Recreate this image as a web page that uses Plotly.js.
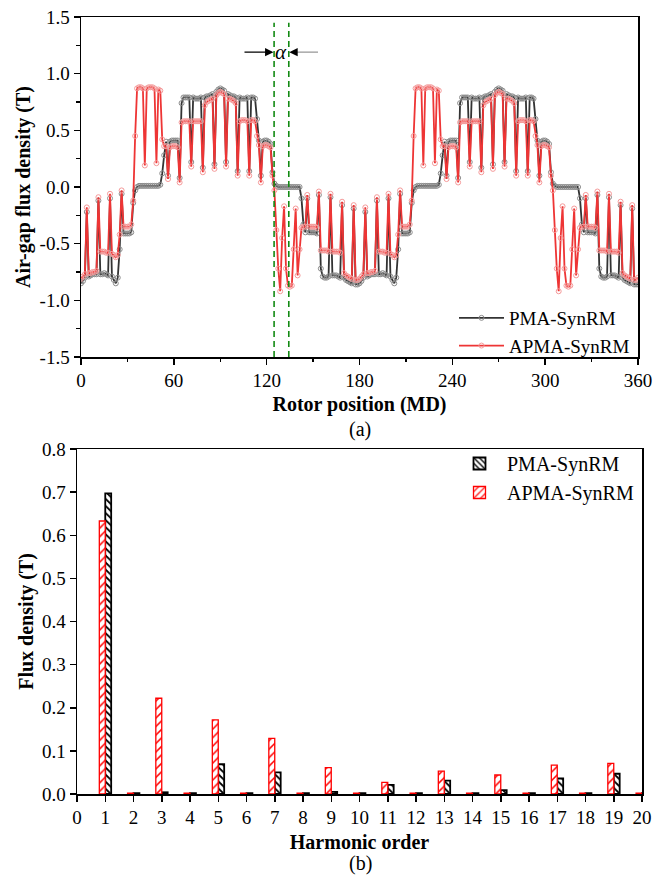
<!DOCTYPE html>
<html><head><meta charset="utf-8">
<script src="https://cdn.plot.ly/plotly-3.0.1.min.js"></script>
<style>html,body{margin:0;padding:0;background:#fff}#chart{width:665px;height:876px}</style>
</head><body><div id="chart"></div>
<script>
// ---------- data (a): air-gap flux density, sampled every 1.25 MD ----------
const stepDeg = 1.25;
const pmaFluxFirstHalf = [
 -0.85,-0.83,-0.80,-0.22,-0.79,-0.78,-0.77,-0.77,-0.77,-0.12,
 -0.77,-0.77,-0.76,-0.77,-0.78,-0.10,-0.79,-0.82,-0.85,-0.80,
 -0.55,-0.06,-0.41,-0.41,-0.41,-0.41,-0.40,-0.14,-0.03,0.00,
 0.01,0.01,0.01,0.01,0.01,0.01,0.01,0.01,0.01,0.01,
 0.01,0.02,0.12,0.28,0.40,0.10,0.40,0.41,0.41,0.41,
 0.41,0.08,0.74,0.79,0.79,0.79,0.79,0.22,0.79,0.78,
 0.78,0.78,0.79,0.17,0.79,0.80,0.80,0.81,0.82,0.20,
 0.84,0.86,0.87,0.86,0.85,0.22,0.82,0.81,0.80,0.80,
 0.79,0.14,0.79,0.78,0.78,0.78,0.79,0.14,0.79,0.79,
 0.78,0.60,0.41,0.10,0.40,0.41,0.41,0.40,0.38,0.13,
 0.03,0.01,0.00,0.00,0.00,0.00,0.00,0.00,0.00,0.00,
 0.00,0.00,0.00,0.00,-0.10,-0.33,-0.40,-0.10,-0.40,-0.40,
 -0.40,-0.40,-0.41,-0.07,-0.72,-0.79,-0.80,-0.80,-0.79,-0.09,
 -0.78,-0.78,-0.78,-0.79,-0.80,-0.16,-0.80,-0.82,-0.83,-0.84,
 -0.85,-0.19,-0.86,-0.86];
const pmaFluxSecondHalf = [
 -0.85,-0.83,-0.80,-0.22,-0.79,-0.78,-0.77,-0.77,-0.77,-0.12,
 -0.77,-0.77,-0.76,-0.77,-0.78,-0.10,-0.79,-0.82,-0.85,-0.80,
 -0.55,-0.06,-0.41,-0.41,-0.41,-0.41,-0.40,-0.14,-0.03,0.00,
 0.01,0.01,0.01,0.01,0.01,0.01,0.01,0.01,0.01,0.01,
 0.01,0.02,0.12,0.28,0.40,0.10,0.40,0.41,0.41,0.41,
 0.41,0.08,0.74,0.79,0.79,0.79,0.79,0.22,0.79,0.78,
 0.78,0.78,0.79,0.17,0.79,0.80,0.80,0.81,0.82,0.20,
 0.84,0.86,0.87,0.86,0.85,0.22,0.82,0.81,0.80,0.80,
 0.79,0.14,0.79,0.78,0.78,0.78,0.79,0.14,0.79,0.79,
 0.78,0.60,0.41,0.10,0.40,0.41,0.41,0.40,0.38,0.13,
 0.03,0.01,0.00,0.00,0.00,0.00,0.00,0.00,0.00,0.00,
 0.00,0.00,0.00,0.00,-0.10,-0.33,-0.40,-0.10,-0.40,-0.40,
 -0.40,-0.40,-0.41,-0.07,-0.72,-0.79,-0.80,-0.80,-0.79,-0.09,
 -0.78,-0.78,-0.78,-0.79,-0.80,-0.16,-0.80,-0.82,-0.83,-0.84,
 -0.85,-0.19,-0.86,-0.86,
 -0.86];
const apmaFluxFirstHalf = [
 -0.81,-0.79,-0.77,-0.18,-0.76,-0.76,-0.75,-0.75,-0.74,-0.09,
 -0.57,-0.57,-0.57,-0.58,-0.58,-0.06,-0.59,-0.60,-0.62,-0.60,
 -0.42,-0.03,-0.35,-0.35,-0.35,-0.35,-0.33,-0.12,0.45,0.87,
 0.88,0.88,0.87,0.19,0.87,0.88,0.88,0.88,0.87,0.21,
 0.86,0.85,0.42,0.36,0.36,0.07,0.35,0.36,0.36,0.36,
 0.35,0.04,0.57,0.58,0.58,0.58,0.58,0.18,0.58,0.58,
 0.58,0.58,0.58,0.13,0.72,0.75,0.76,0.77,0.78,0.16,
 0.81,0.83,0.84,0.83,0.82,0.18,0.78,0.78,0.77,0.76,
 0.74,0.10,0.58,0.59,0.59,0.59,0.58,0.10,0.59,0.59,
 0.58,0.45,0.37,0.04,0.36,0.37,0.37,0.36,0.35,0.10,
 -0.03,-0.38,-0.72,-0.92,-0.45,-0.17,-0.72,-0.87,-0.88,-0.87,
 -0.55,-0.19,-0.78,-0.55,-0.36,-0.35,-0.35,-0.07,-0.35,-0.35,
 -0.35,-0.35,-0.36,-0.04,-0.56,-0.56,-0.56,-0.56,-0.57,-0.06,
 -0.57,-0.57,-0.57,-0.57,-0.58,-0.13,-0.76,-0.78,-0.79,-0.80,
 -0.81,-0.16,-0.82,-0.82];
const apmaFluxSecondHalf = [
 -0.81,-0.79,-0.77,-0.18,-0.76,-0.76,-0.75,-0.75,-0.74,-0.09,
 -0.57,-0.57,-0.57,-0.58,-0.58,-0.06,-0.59,-0.60,-0.62,-0.60,
 -0.42,-0.03,-0.35,-0.35,-0.35,-0.35,-0.33,-0.12,0.45,0.87,
 0.88,0.88,0.87,0.19,0.87,0.88,0.88,0.88,0.87,0.21,
 0.86,0.85,0.42,0.36,0.36,0.07,0.35,0.36,0.36,0.36,
 0.35,0.04,0.57,0.58,0.58,0.58,0.58,0.18,0.58,0.58,
 0.58,0.58,0.58,0.13,0.72,0.75,0.76,0.77,0.78,0.16,
 0.81,0.83,0.84,0.83,0.82,0.18,0.78,0.78,0.77,0.76,
 0.74,0.10,0.58,0.59,0.59,0.59,0.58,0.10,0.59,0.59,
 0.58,0.45,0.37,0.04,0.36,0.37,0.37,0.36,0.35,0.10,
 -0.03,-0.38,-0.72,-0.92,-0.45,-0.17,-0.72,-0.87,-0.88,-0.87,
 -0.55,-0.19,-0.78,-0.55,-0.36,-0.35,-0.35,-0.07,-0.35,-0.35,
 -0.35,-0.35,-0.36,-0.04,-0.56,-0.56,-0.56,-0.56,-0.57,-0.06,
 -0.57,-0.57,-0.57,-0.57,-0.58,-0.13,-0.76,-0.78,-0.79,-0.80,
 -0.81,-0.16,-0.82,-0.82,
 -0.80];
const alphaLines = [124.8, 134.3];
const fluxTickVals = [-1.5,-1.0,-0.5,0,0.5,1.0,1.5];
const fluxTickText = ['-1.5','-1.0','-0.5','0.0','0.5','1.0','1.5'];
const rotorTickVals = [0,60,120,180,240,300,360];

// ---------- data (b): harmonic spectrum ----------
const harmonicOrder = [1,2,3,4,5,6,7,8,9,10,11,12,13,14,15,16,17,18,19,20];
const pmaHarmonic  = [0.697,0.002,0.004,0.002,0.069,0.002,0.050,0.002,0.005,0.002,0.021,0.002,0.031,0.002,0.009,0.002,0.036,0.002,0.047,0.002];
const apmaHarmonic = [0.633,0.002,0.222,0.002,0.172,0.002,0.129,0.002,0.061,0.002,0.027,0.002,0.053,0.002,0.044,0.002,0.067,0.002,0.071,0.002];
const harmTickVals = [0,0.1,0.2,0.3,0.4,0.5,0.6,0.7,0.8];
const harmTickText = ['0.0','0.1','0.2','0.3','0.4','0.5','0.6','0.7','0.8'];

// ---------- build ----------
const pmaFlux = pmaFluxFirstHalf.concat(pmaFluxSecondHalf);
const apmaFlux = apmaFluxFirstHalf.concat(apmaFluxSecondHalf);
const rotorPos = pmaFlux.map((_, i) => i * stepDeg);

const FONT = 'Liberation Serif, Times New Roman, serif';
const W = 665, H = 876;
const px = v => v / W, py = v => 1 - v / H;

const traces = [
  {x: rotorPos, y: pmaFlux, type: 'scatter', mode: 'lines+markers', name: 'PMA-SynRM',
   xaxis: 'x', yaxis: 'y', legend: 'legend',
   line: {color: '#333333', width: 1.8},
   marker: {symbol: 'circle-open', size: 5, color: '#8c8c8c', line: {width: 1}}},
  {x: rotorPos, y: apmaFlux, type: 'scatter', mode: 'lines+markers', name: 'APMA-SynRM',
   xaxis: 'x', yaxis: 'y', legend: 'legend',
   line: {color: '#ee3535', width: 1.8},
   marker: {symbol: 'circle-open', size: 5, color: '#f59a9a', line: {width: 1}}},
  {x: harmonicOrder, y: pmaHarmonic, type: 'bar', name: 'PMA-SynRM',
   xaxis: 'x2', yaxis: 'y2', legend: 'legend2', offset: 0, width: 0.21,
   marker: {color: 'white', line: {color: '#000', width: 1.8},
            pattern: {shape: '\\', fgcolor: '#000', bgcolor: 'white', size: 5, solidity: 0.35}}},
  {x: harmonicOrder, y: apmaHarmonic, type: 'bar', name: 'APMA-SynRM',
   xaxis: 'x2', yaxis: 'y2', legend: 'legend2', offset: -0.21, width: 0.21,
   marker: {color: 'white', line: {color: '#ff0000', width: 1.3},
            pattern: {shape: '/', fgcolor: '#ff0000', bgcolor: 'white', size: 6, solidity: 0.25}}}
];

const axisCommon = {
  showline: true, linewidth: 1.5, linecolor: '#000', mirror: true,
  ticks: 'outside', ticklen: 6, tickwidth: 1.5, tickcolor: '#000',
  showgrid: false, zeroline: false, fixedrange: true,
  tickfont: {family: FONT, size: 19, color: '#000'}
};
const titleFont = {family: FONT, size: 20, color: '#000'};

const layout = {
  width: W, height: H, margin: {l: 0, r: 0, t: 0, b: 0},
  paper_bgcolor: 'white', plot_bgcolor: 'white',
  font: {family: FONT, size: 19, color: '#000'},
  barmode: 'overlay',
  xaxis: Object.assign({}, axisCommon, {
    domain: [px(81), px(638)], range: [0, 360], anchor: 'y',
    tickmode: 'array', tickvals: rotorTickVals,
    minor: {tickmode: 'linear', tick0: 0, dtick: 30, ticks: 'outside', ticklen: 3.5, tickwidth: 1.2, tickcolor: '#000'},
    title: {text: '<b>Rotor position (MD)</b>', font: titleFont, standoff: 6}
  }),
  yaxis: Object.assign({}, axisCommon, {
    domain: [py(357), py(17)], range: [-1.5, 1.5], anchor: 'x',
    tickmode: 'array', tickvals: fluxTickVals, ticktext: fluxTickText,
    minor: {tickmode: 'linear', tick0: -1.5, dtick: 0.25, ticks: 'outside', ticklen: 3.5, tickwidth: 1.2, tickcolor: '#000'},
    title: {text: '<b>Air-gap flux density (T)</b>', font: titleFont, standoff: 3}
  }),
  xaxis2: Object.assign({}, axisCommon, {
    domain: [px(77), px(642)], range: [0, 20], anchor: 'y2',
    tickmode: 'linear', tick0: 0, dtick: 1,
    title: {text: '<b>Harmonic order</b>', font: titleFont, standoff: 7}
  }),
  yaxis2: Object.assign({}, axisCommon, {
    domain: [py(794), py(449)], range: [0, 0.8], anchor: 'x2',
    tickmode: 'array', tickvals: harmTickVals, ticktext: harmTickText,
    title: {text: '<b>Flux density (T)</b>', font: titleFont, standoff: 3}
  }),
  legend: {x: px(454), xanchor: 'left', y: py(299), yanchor: 'top',
           font: {family: FONT, size: 19, color: '#000'}, itemwidth: 45,
           bgcolor: 'rgba(0,0,0,0)', borderwidth: 0, tracegroupgap: 0},
  legend2: {x: px(452), xanchor: 'left', y: py(444), yanchor: 'top',
           font: {family: FONT, size: 20, color: '#000'}, itemwidth: 45,
           bgcolor: 'rgba(0,0,0,0)', borderwidth: 0, tracegroupgap: 0},
  shapes: alphaLines.map(xv => ({
    type: 'line', xref: 'x', yref: 'y', x0: xv, x1: xv, y0: -1.5, y1: 1.45,
    line: {color: '#138a13', width: 1.6, dash: '6px,4px'}
  })).concat([
    {type: 'line', xref: 'x', yref: 'y', x0: 138.5, x1: 153.2, y0: 1.19, y1: 1.19,
     line: {color: '#9a9a9a', width: 1.3}}
  ]),
  annotations: [
    {xref: 'x', yref: 'y', x: alphaLines[0] - 0.4, y: 1.19, axref: 'x', ayref: 'y', ax: 104.7, ay: 1.19,
     showarrow: true, arrowhead: 2, arrowsize: 1.4, arrowwidth: 1.2, arrowcolor: '#000', text: ''},
    {xref: 'x', yref: 'y', x: alphaLines[1] + 0.3, y: 1.19, axref: 'x', ayref: 'y', ax: 139, ay: 1.19,
     showarrow: true, arrowhead: 2, arrowsize: 1.4, arrowwidth: 1.2, arrowcolor: '#000', text: ''},
    {xref: 'x', yref: 'y', x: (alphaLines[0] + alphaLines[1]) / 2, y: 1.19, showarrow: false,
     text: '<i>α</i>', font: {family: FONT, size: 21, color: '#000'}},
    {xref: 'paper', yref: 'paper', x: px(360), y: py(429), xanchor: 'center', yanchor: 'middle', showarrow: false,
     text: '(a)', font: {family: FONT, size: 20, color: '#000'}},
    {xref: 'paper', yref: 'paper', x: px(360), y: py(863), xanchor: 'center', yanchor: 'middle', showarrow: false,
     text: '(b)', font: {family: FONT, size: 20, color: '#000'}}
  ]
};

Plotly.newPlot('chart', traces, layout, {displayModeBar: false, staticPlot: true});
</script>
</body></html>
